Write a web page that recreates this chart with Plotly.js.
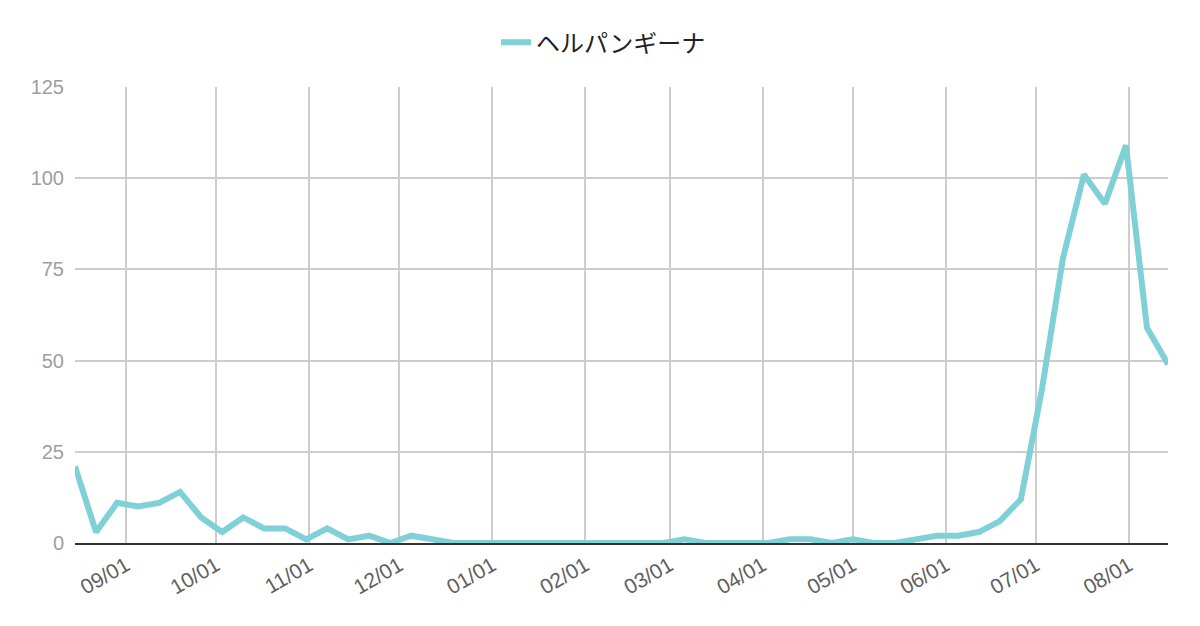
<!DOCTYPE html>
<html>
<head>
<meta charset="utf-8">
<script src="https://cdn.plot.ly/plotly-3.0.1.min.js"></script>
<style>
  html, body { margin: 0; padding: 0; background: #fff; }
  #graph { width: 1200px; height: 626px; }
</style>
</head>
<body>
<div id="graph"></div>
<script>
var seriesName = 'ヘルパンギーナ'

var weeks = [
    '2022-08-15', '2022-08-22', '2022-08-29', '2022-09-05', '2022-09-12',
    '2022-09-19', '2022-09-26', '2022-10-03', '2022-10-10', '2022-10-17',
    '2022-10-24', '2022-10-31', '2022-11-07', '2022-11-14', '2022-11-21',
    '2022-11-28', '2022-12-05', '2022-12-12', '2022-12-19', '2022-12-26',
    '2023-01-02', '2023-01-09', '2023-01-16', '2023-01-23', '2023-01-30',
    '2023-02-06', '2023-02-13', '2023-02-20', '2023-02-27', '2023-03-06',
    '2023-03-13', '2023-03-20', '2023-03-27', '2023-04-03', '2023-04-10',
    '2023-04-17', '2023-04-24', '2023-05-01', '2023-05-08', '2023-05-15',
    '2023-05-22', '2023-05-29', '2023-06-05', '2023-06-12', '2023-06-19',
    '2023-06-26', '2023-07-03', '2023-07-10', '2023-07-17', '2023-07-24',
    '2023-07-31', '2023-08-07', '2023-08-14'
]

var cases = [
    21, 3, 11, 10, 11, 14, 7, 3, 7, 4,
    4, 1, 4, 1, 2, 0, 2, 1, 0, 0,
    0, 0, 0, 0, 0, 0, 0, 0, 0, 1,
    0, 0, 0, 0, 1, 1, 0, 1, 0, 0,
    1, 2, 2, 3, 6, 12, 42, 78, 101, 93,
    109, 59, 49
]

var yTicks = [0, 25, 50, 75, 100, 125]

var trace = {
    x: weeks,
    y: cases,
    type: 'scatter',
    mode: 'lines',
    name: seriesName,
    line: { color: '#7fd1d7', width: 6 }
}

var layout = {
    width: 1200,
    height: 626,
    margin: { l: 75, r: 32, t: 87, b: 83 },
    paper_bgcolor: '#fff',
    plot_bgcolor: '#fff',
    font: { family: 'Liberation Sans, Arial, sans-serif' },
    showlegend: true,
    legend: {
        orientation: 'h',
        x: 0.4835,
        xanchor: 'center',
        y: 1.097,
        yanchor: 'middle',
        itemwidth: 30,
        font: { family: 'Noto Sans CJK JP, sans-serif', size: 24, color: '#222' }
    },
    xaxis: {
        type: 'date',
        range: [weeks[0], weeks[weeks.length - 1]],
        tick0: '2022-09-01',
        dtick: 'M1',
        tickformat: '%m/%d',
        tickangle: -30,
        tickfont: { size: 21, color: '#5f5f5f' },
        showgrid: true,
        gridcolor: '#cdcdcd',
        gridwidth: 2,
        showline: true,
        linecolor: '#333',
        linewidth: 2,
        zeroline: false,
        fixedrange: true
    },
    yaxis: {
        range: [0, 125],
        tickvals: yTicks,
        tickfont: { size: 20, color: '#9e9e9e' },
        ticklabelstandoff: 10,
        showgrid: true,
        gridcolor: '#cdcdcd',
        gridwidth: 2,
        zeroline: false,
        showline: false,
        fixedrange: true
    }
}

Plotly.newPlot('graph', [trace], layout, { displayModeBar: false, staticPlot: true })
</script>
</body>
</html>
